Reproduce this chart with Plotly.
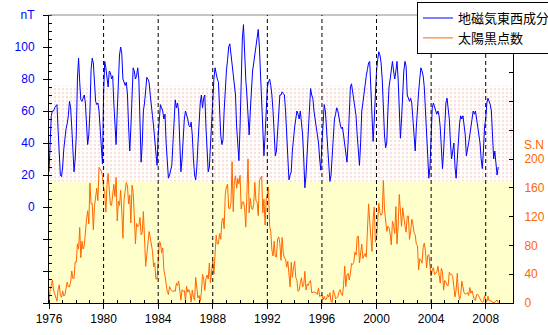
import plotly.graph_objects as go

# ---------------- data (monthly, Jan 1976 .. Dec 2008) ----------------
start_year = 1976
years = list(range(1976, 2009))

# geomagnetic east-west component (nT), 12 values per year
geomag_ew = [
    22, 40, 57, 60, 60, 62, 63, 64, 48, 30, 20, 19,      # 1976
    25, 36, 44, 49, 52, 57, 66, 62, 50, 35, 22, 30,      # 1977
    45, 80, 93, 78, 67, 66, 68, 70, 65, 50, 39, 45,      # 1978
    60, 86, 93, 90, 75, 66, 64, 65, 60, 48, 40, 27,      # 1979
    70, 91, 87, 82, 75, 85, 84, 80, 82, 65, 50, 39,      # 1980
    60, 82, 95, 100, 96, 80, 78, 76, 78, 70, 50, 35,     # 1981
    50, 75, 87, 85, 80, 82, 87, 80, 50, 28, 40, 60,      # 1982
    65, 75, 81, 80, 78, 70, 65, 57, 50, 40, 30, 26,      # 1983
    45, 58, 64, 62, 60, 55, 58, 40, 25, 18, 20, 24,      # 1984
    26, 40, 55, 67, 62, 65, 60, 40, 22, 30, 45, 55,      # 1985
    60, 58, 55, 51, 50, 53, 45, 30, 20, 17, 25, 40,      # 1986
    55, 65, 70, 62, 68, 70, 50, 35, 22, 25, 40, 55,      # 1987
    65, 80, 87, 82, 80, 78, 60, 45, 39, 42, 60, 75,      # 1988
    85, 92, 100, 102, 95, 90, 82, 78, 70, 50, 35, 29,    # 1989
    50, 80, 105, 114, 95, 80, 70, 55, 45, 60, 75, 85,    # 1990
    90, 95, 100, 105, 111, 100, 85, 70, 50, 32, 45, 65,  # 1991
    75, 78, 80, 76, 70, 60, 40, 32, 35, 50, 65, 70,      # 1992
    70, 72, 71, 70, 60, 45, 25, 17, 20, 22, 35, 45,      # 1993
    50, 55, 60, 58, 55, 60, 52, 45, 30, 12, 20, 35,      # 1994
    50, 65, 74, 70, 68, 60, 55, 50, 47, 40, 30, 23,      # 1995
    40, 55, 64, 60, 50, 40, 25, 16, 20, 30, 45, 55,      # 1996
    58, 62, 60, 55, 52, 49, 50, 45, 40, 35, 28, 40,      # 1997
    60, 75, 77, 72, 68, 60, 57, 45, 35, 26, 40, 60,      # 1998
    65, 72, 78, 82, 86, 90, 91, 70, 50, 41, 55, 75,      # 1999
    85, 92, 97, 95, 90, 80, 60, 45, 37, 40, 60, 75,      # 2000
    80, 88, 91, 85, 80, 85, 91, 80, 60, 43, 55, 75,      # 2001
    85, 91, 88, 70, 68, 66, 68, 65, 55, 45, 35, 50,      # 2002
    65, 72, 80, 87, 85, 82, 75, 60, 40, 30, 18, 25,      # 2003
    45, 62, 65, 63, 60, 58, 60, 57, 50, 40, 24, 35,      # 2004
    55, 65, 68, 62, 55, 40, 30, 35, 40, 25, 18, 30,      # 2005
    45, 52, 57, 55, 57, 50, 45, 32, 35, 40, 45, 50,      # 2006
    55, 60, 58, 60, 55, 50, 47, 40, 30, 24, 35, 50,      # 2007
    55, 65, 68, 66, 64, 60, 45, 30, 35, 28, 20, 25,      # 2008
]

# monthly sunspot number
sunspot = [
    2.3, 18.7, 24.0, 31.8, 18.1, 11.4, 8.6, 2.5, 18.7, 25.3, 10.3, 8.0,
    16.8, 9.7, 11.1, 19.5, 29.0, 22.7, 22.4, 28.8, 44.5, 34.1, 33.9, 57.1,
    56.9, 82.2, 74.8, 104.9, 63.0, 85.9, 75.0, 79.8, 100.8, 116.0, 128.2, 109.9,
    166.6, 137.5, 138.0, 101.5, 134.4, 149.5, 159.4, 142.2, 188.4, 186.2, 183.3, 176.3,
    159.6, 155.0, 126.2, 164.1, 179.9, 157.3, 136.3, 135.4, 155.0, 164.7, 147.9, 174.4,
    114.0, 141.3, 135.5, 156.4, 127.5, 90.0, 143.8, 158.7, 167.3, 162.4, 137.5, 150.1,
    111.2, 163.6, 153.8, 122.0, 82.2, 110.4, 106.1, 107.6, 118.8, 94.7, 98.1, 127.0,
    84.3, 51.0, 66.5, 80.7, 99.2, 91.1, 82.2, 71.8, 50.3, 55.8, 33.3, 33.4,
    57.0, 85.4, 83.5, 69.7, 76.4, 46.1, 37.4, 25.5, 15.7, 12.0, 22.8, 18.7,
    16.5, 15.9, 17.2, 16.2, 27.5, 24.2, 30.7, 11.1, 3.9, 18.6, 16.2, 17.3,
    2.5, 23.2, 15.1, 18.5, 13.7, 1.1, 18.1, 7.4, 3.8, 35.4, 15.2, 6.8,
    10.4, 2.4, 14.7, 39.6, 33.0, 17.4, 33.9, 38.8, 33.2, 55.6, 28.0, 41.1,
    59.2, 40.2, 76.8, 94.1, 81.8, 82.4, 96.6, 88.6, 113.5, 118.0, 103.2, 150.4,
    161.3, 165.1, 131.4, 130.6, 138.5, 196.2, 126.9, 168.9, 176.7, 159.4, 173.0, 165.5,
    177.3, 130.5, 140.3, 140.3, 132.2, 105.4, 149.4, 200.3, 125.2, 145.5, 131.4, 129.7,
    136.9, 167.5, 141.9, 140.0, 121.3, 169.7, 173.7, 176.3, 125.3, 144.1, 108.2, 144.4,
    150.0, 161.1, 106.7, 99.8, 73.6, 65.2, 85.7, 64.5, 63.9, 88.7, 91.8, 82.6,
    59.3, 91.0, 69.8, 62.2, 61.3, 49.8, 57.9, 42.2, 22.4, 56.4, 35.6, 48.9,
    57.8, 35.5, 31.7, 16.1, 17.8, 28.0, 35.1, 22.5, 25.7, 44.0, 18.0, 26.2,
    24.2, 29.9, 31.1, 14.0, 14.5, 15.6, 14.5, 14.3, 11.8, 21.1, 9.0, 10.0,
    11.5, 4.4, 9.2, 4.8, 5.5, 11.8, 8.2, 14.4, 1.6, 0.9, 17.9, 13.3,
    5.7, 7.6, 8.7, 15.5, 18.5, 12.7, 10.4, 24.4, 51.3, 22.8, 39.0, 41.2,
    31.9, 40.3, 54.8, 53.4, 56.3, 70.7, 66.6, 92.2, 92.9, 55.5, 74.0, 81.9,
    62.0, 66.3, 68.8, 63.7, 106.4, 137.7, 113.5, 93.7, 71.5, 116.7, 133.2, 84.6,
    90.1, 112.9, 138.5, 125.5, 121.6, 124.9, 170.1, 130.5, 109.7, 99.4, 106.8, 104.4,
    95.6, 80.6, 113.5, 107.7, 96.6, 134.0, 81.8, 106.4, 150.7, 125.5, 106.5, 132.2,
    114.1, 107.4, 98.4, 120.7, 120.8, 88.3, 99.6, 116.4, 109.6, 97.5, 95.0, 81.6,
    79.5, 46.2, 61.5, 60.0, 55.2, 77.4, 83.3, 72.7, 48.7, 65.5, 67.3, 46.5,
    37.3, 45.8, 49.1, 39.3, 41.5, 43.2, 51.1, 40.9, 27.7, 48.0, 43.5, 17.9,
    31.3, 29.2, 24.5, 24.2, 42.7, 39.3, 40.0, 36.4, 22.1, 8.5, 18.0, 41.2,
    15.3, 4.9, 10.6, 30.2, 22.3, 13.9, 12.2, 12.9, 14.4, 10.5, 21.4, 13.6,
    16.8, 10.7, 4.5, 3.4, 11.7, 12.1, 9.7, 6.0, 2.4, 0.9, 1.7, 10.1,
    3.4, 2.1, 9.3, 2.9, 2.9, 3.1, 0.5, 0.5, 1.1, 2.9, 4.1, 0.8,
]

x_tick_years = [1976, 1980, 1984, 1988, 1992, 1996, 2000, 2004, 2008]
dashed_years = [1980, 1984, 1988, 1992, 1996, 2000, 2004, 2008]
left_tickvals = [-60, -40, -20, 0, 20, 40, 60, 80, 100, 120]
left_ticktext = ["", "", "", "0", "20", "40", "60", "80", "100", "nT"]
right_tickvals = [0, 40, 80, 120, 160, 200, 240, 280, 320, 360, 400]
right_ticktext = ["0", "40", "80", "120", "160", "200", "", "", "", "", ""]
band_dotted = (16, 76)     # nT, dotted band
band_yellow = (-60, 16)    # nT, yellow band
x_range = (1976, 2010)
left_range = (-60, 120)
right_range = (0, 400)

# decimal-year positions of monthly samples
x_month = [start_year + i / 12 for i in range(len(geomag_ew))]

BLUE = "#0000ff"
ORANGE = "#ff6600"
FONT = "Liberation Sans, Arial, sans-serif"
JP = "Noto Sans CJK JP, sans-serif"

fig = go.Figure()

# dotted band
fig.add_trace(go.Scatter(
    x=[x_range[0], x_range[1], x_range[1], x_range[0], x_range[0]],
    y=[band_dotted[0], band_dotted[0], band_dotted[1], band_dotted[1], band_dotted[0]],
    mode="lines", line=dict(width=0), fill="toself",
    fillcolor="white",
    fillpattern=dict(shape=".", fgcolor="#f5bcae", bgcolor="white", size=4, solidity=0.25),
    showlegend=False, hoverinfo="skip", yaxis="y",
))

fig.add_trace(go.Scatter(
    x=x_month, y=geomag_ew, mode="lines", name="地磁気東西成分",
    line=dict(color=BLUE, width=1), yaxis="y",
))
fig.add_trace(go.Scatter(
    x=x_month, y=sunspot, mode="lines", name="太陽黒点数",
    line=dict(color=ORANGE, width=1), yaxis="y2",
))

shapes = [
    dict(type="rect", xref="paper", yref="y", x0=0, x1=1,
         y0=band_yellow[0], y1=band_yellow[1], fillcolor="#ffffcc",
         line=dict(width=0), layer="below"),
    dict(type="line", xref="paper", yref="paper", x0=0, x1=1, y0=1, y1=1,
         line=dict(color="#8a8a8a", width=1), layer="above"),
]
for yr in dashed_years:
    shapes.append(dict(type="line", xref="x", yref="paper", x0=yr, x1=yr, y0=0, y1=1,
                       line=dict(color="black", width=1, dash="4px,3px"), layer="above"))

fig.update_layout(
    width=548, height=335,
    margin=dict(l=49, r=35, t=15, b=32, autoexpand=False),
    paper_bgcolor="white", plot_bgcolor="white",
    font=dict(family=FONT, size=12, color="black"),
    shapes=shapes,
    showlegend=True,
    legend=dict(x=0.793, y=1.045, xanchor="left", yanchor="top",
                bgcolor="white", bordercolor="black", borderwidth=1,
                font=dict(family=JP, size=13, color="black"),
                itemwidth=30, tracegroupgap=0),
    xaxis=dict(range=list(x_range), tickvals=x_tick_years, ticks="outside", ticklen=5,
               tickcolor="black", showline=True, linecolor="black", linewidth=1,
               showgrid=False, zeroline=False, automargin=False,
               minor=dict(dtick=1, tick0=1976, ticks="inside", ticklen=3, tickcolor="black"),
               tickfont=dict(family=FONT, size=12, color="black")),
    yaxis=dict(range=list(left_range), tickvals=left_tickvals, ticktext=left_ticktext,
               ticks="outside", ticklen=5, tickcolor="black", showline=True,
               linecolor="black", linewidth=1, showgrid=False, zeroline=False,
               automargin=False,
               minor=dict(dtick=5, tick0=0, ticks="inside", ticklen=3, tickcolor="black"),
               tickfont=dict(family=FONT, size=12, color=BLUE), ticklabelstandoff=6),
    yaxis2=dict(range=list(right_range), tickvals=right_tickvals, ticktext=right_ticktext,
                overlaying="y", side="right", ticks="inside", ticklen=4, tickcolor="black",
                showline=True, linecolor="black", linewidth=1, showgrid=False,
                zeroline=False, automargin=False,
                tickfont=dict(family=FONT, size=12, color=ORANGE),
                ticklabelstandoff=8),
    annotations=[dict(text="S.N", xref="paper", yref="y2", x=1, y=220,
                      xanchor="left", yanchor="middle", xshift=9, showarrow=False,
                      font=dict(family=FONT, size=12, color=ORANGE))],
)

fig.write_html("out.html")
